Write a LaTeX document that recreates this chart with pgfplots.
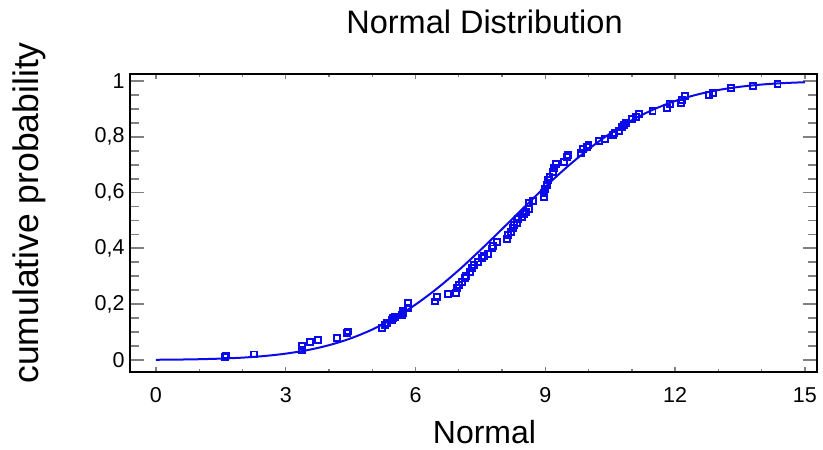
\documentclass[border=0pt]{standalone}
\usepackage{fontspec}
\setmainfont{Liberation Sans}
\usepackage{pgfplots}
\pgfplotsset{compat=1.18}

\definecolor{cdfblue}{RGB}{10,10,235}

\begin{document}
\begin{tikzpicture}
\useasboundingbox (-130pt,-78pt) rectangle (693pt,372pt);
\begin{axis}[
  at={(0pt,0pt)}, anchor=south west,
  scale only axis,
  width=687pt, height=298pt,
  xmin=-0.6, xmax=15.28,
  ymin=-0.043, ymax=1.025,
  xtick={0,3,...,15},
  minor x tick num=2,
  ytick={0,0.2,...,1},
  minor y tick num=3,
  tick align=inside,
  major tick length=14pt,
  minor tick length=9pt,
  x tick style={/pgfplots/major tick length=5pt, /pgfplots/minor tick length=3pt, line width=1.4pt},
  y tick style={line width=1.8pt},
  axis line style={line width=2.8pt},
  /pgf/number format/assume math mode=true,
  /pgf/number format/use comma,
  /pgf/number format/fixed,
  tick label style={font=\fontsize{21.5}{24}\selectfont},
  yticklabel style={xshift=-2pt},
  xticklabel style={yshift=-12pt},
  title={Normal Distribution},
  title style={font=\fontsize{32.5}{36}\selectfont, at={(axis description cs:0.516,1.154)}, anchor=center},
  xlabel={Normal},
  xlabel style={font=\fontsize{32}{36}\selectfont, at={(axis description cs:0.516,-0.2)}, anchor=center},
  ylabel={cumulative probability},
  ylabel style={font=\fontsize{35.5}{38}\selectfont, at={(axis description cs:-0.146,0.534)}, anchor=center},
  clip=false,
]
% fitted normal cdf
\addplot[cdfblue, line width=2pt, smooth] coordinates {
 (0,0.0008) (0.5,0.0015) (1,0.0028) (1.5,0.0050) (2,0.0085) (2.5,0.0142)
 (3,0.0228) (3.5,0.0353) (4,0.0531) (4.5,0.0774) (5,0.1092) (5.5,0.1496)
 (6,0.1987) (6.5,0.2566) (7,0.3221) (7.5,0.3939) (8,0.4693) (8.5,0.5458)
 (9,0.6209) (9.5,0.6915) (10,0.7556) (10.5,0.8119) (11,0.8593) (11.5,0.8978)
 (12,0.9281) (12.5,0.9509) (13,0.9676) (13.5,0.9792) (14,0.9872) (14.5,0.9923)
 (15,0.9955)
};
% empirical points
\addplot[cdfblue, only marks, mark=square, mark size=2.9pt, mark options={line width=1.9pt}] coordinates {
 (1.60,0.011) (1.62,0.016) (2.27,0.020) (3.37,0.036) (3.37,0.050) (3.56,0.065)
 (3.74,0.072) (4.18,0.079) (4.41,0.097) (4.44,0.102) (5.22,0.115) (5.29,0.125)
 (5.34,0.133) (5.45,0.143) (5.48,0.150) (5.52,0.154) (5.69,0.161) (5.71,0.168)
 (5.71,0.176) (5.82,0.186) (5.82,0.204) (6.45,0.210) (6.49,0.226) (6.75,0.236)
 (6.93,0.240) (6.96,0.258) (7.00,0.269) (7.07,0.280) (7.14,0.294) (7.16,0.300)
 (7.26,0.315) (7.30,0.330) (7.35,0.340) (7.44,0.350) (7.53,0.366) (7.58,0.372)
 (7.67,0.380) (7.76,0.400) (7.79,0.408) (7.88,0.423) (8.11,0.433) (8.14,0.448)
 (8.20,0.459) (8.25,0.473) (8.27,0.484) (8.34,0.491) (8.37,0.505) (8.46,0.513)
 (8.50,0.523) (8.55,0.530) (8.62,0.540) (8.62,0.563) (8.71,0.570) (8.97,0.584)
 (8.97,0.598) (8.99,0.613) (9.04,0.627) (9.06,0.645) (9.10,0.656) (9.17,0.674)
 (9.20,0.688) (9.24,0.703) (9.43,0.710) (9.50,0.727) (9.52,0.735) (9.82,0.742)
 (9.87,0.756) (9.96,0.763) (10.00,0.770) (10.24,0.785) (10.38,0.792) (10.56,0.806)
 (10.60,0.813) (10.70,0.820) (10.77,0.835) (10.82,0.842) (10.86,0.850) (11.00,0.864)
 (11.10,0.871) (11.16,0.882) (11.48,0.892) (11.81,0.903) (11.88,0.918) (12.13,0.921)
 (12.16,0.932) (12.23,0.946) (12.78,0.950) (12.87,0.957) (13.29,0.975) (13.80,0.982)
 (14.37,0.989)
};
\end{axis}
\end{tikzpicture}
\end{document}
